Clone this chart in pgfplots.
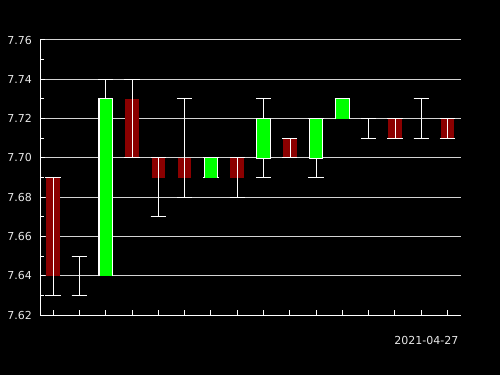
\documentclass[border=0pt]{standalone}
\usepackage{fontspec}
\setmainfont{DejaVu Sans}
\usepackage{pgfplots}
\usepackage{pgfplotstable}
\pgfplotsset{compat=1.18}

\definecolor{candleup}{RGB}{0,255,0}
\definecolor{candledown}{RGB}{139,0,0}
\definecolor{gridgray}{RGB}{211,211,211}
\definecolor{labelgray}{RGB}{232,232,232}

% a plot mark that draws nothing, so only the error bars show
\pgfdeclareplotmark{blank}{}

% rising sessions (close above open)
\pgfplotstableread{
i  open  high  low   close
2  7.64  7.74  7.64  7.73
6  7.69  7.70  7.69  7.70
8  7.70  7.73  7.69  7.72
10 7.70  7.72  7.69  7.72
11 7.72  7.73  7.72  7.73
}\upcandles

% falling and unchanged sessions
\pgfplotstableread{
i  open  high  low   close
0  7.69  7.69  7.63  7.64
1  7.64  7.65  7.63  7.64
3  7.73  7.74  7.70  7.70
4  7.70  7.70  7.67  7.69
5  7.70  7.73  7.68  7.69
7  7.70  7.70  7.68  7.69
9  7.71  7.71  7.70  7.70
12 7.72  7.72  7.71  7.72
13 7.72  7.72  7.71  7.71
14 7.72  7.73  7.71  7.72
15 7.72  7.72  7.71  7.71
}\downcandles

\pgfplotsset{
  wick/.style={color=white, only marks, mark=blank, forget plot,
    error bars/.cd, y dir=both, y explicit, error mark=-,
    error bar style={draw=white, line width=1pt},
    error mark options={rotate=90, draw=white, line width=1pt, mark size=7.7pt}},
  capsonly/.style={color=white, only marks, mark=blank, forget plot,
    error bars/.cd, y dir=both, y explicit, error mark=-,
    error bar style={draw=none},
    error mark options={rotate=90, draw=white, line width=1pt, mark size=7.7pt}},
  body/.style n args={3}{draw=none, mark=none, forget plot,
    error bars/.cd, y dir=plus, y explicit, error mark=none,
    error bar style={draw=#1, line width=#2, line cap=butt, #3}},
}

\begin{document}
\begin{tikzpicture}
\fill[black] (0,0) rectangle (500pt,375pt);
\useasboundingbox (0,0) rectangle (500pt,375pt);
\begin{axis}[
  at={(40pt,60pt)}, anchor=south west,
  scale only axis, width=420.7pt, height=275pt,
  xmin=-0.5, xmax=15.5, ymin=7.62, ymax=7.76,
  axis x line*=bottom, axis y line*=left,
  axis line style={white, line width=1pt, -},
  tick align=inside,
  tick style={white, line width=1pt},
  major tick length=5pt, minor tick length=3.7pt,
  xtick={0,1,...,15}, xticklabels={}, minor x tick num=0,
  ytick={7.62,7.64,7.66,7.68,7.70,7.72,7.74,7.76},
  minor y tick num=1,
  ymajorgrids,
  major grid style={gridgray, line width=1pt},
  /pgf/number format/assume math mode=true,
  yticklabel={\pgfmathprintnumber[fixed, fixed zerofill, precision=2]{\tick}},
  yticklabel style={font=\fontsize{11}{13}\selectfont, text=labelgray,
    inner sep=0pt, anchor=east, xshift=-8pt},
]
% wicks behind the bodies
\addplot[wick] table[x=i, y=low, y error plus expr=\thisrow{high}-\thisrow{low}, y error minus expr=0] {\upcandles};
\addplot[wick] table[x=i, y=low, y error plus expr=\thisrow{high}-\thisrow{low}, y error minus expr=0] {\downcandles};
% bodies
\addplot[body={candledown}{13.6pt}{}] table[x=i, y=close, y error plus expr=\thisrow{open}-\thisrow{close}] {\downcandles};
\addplot[body={white}{14.7pt}{shorten <=-0.7pt, shorten >=-0.7pt}] table[x=i, y=open, y error plus expr=\thisrow{close}-\thisrow{open}] {\upcandles};
\addplot[body={candleup}{12.4pt}{}] table[x=i, y=open, y error plus expr=\thisrow{close}-\thisrow{open}] {\upcandles};
% caps drawn again on top of the bodies
\addplot[capsonly] table[x=i, y=low, y error plus expr=\thisrow{high}-\thisrow{low}, y error minus expr=0] {\downcandles};
\end{axis}
\node[anchor=base east, text=labelgray, font=\fontsize{11}{13}\selectfont, inner sep=0pt] at (458.5pt,31pt) {2021-04-27};
\end{tikzpicture}
\end{document}
